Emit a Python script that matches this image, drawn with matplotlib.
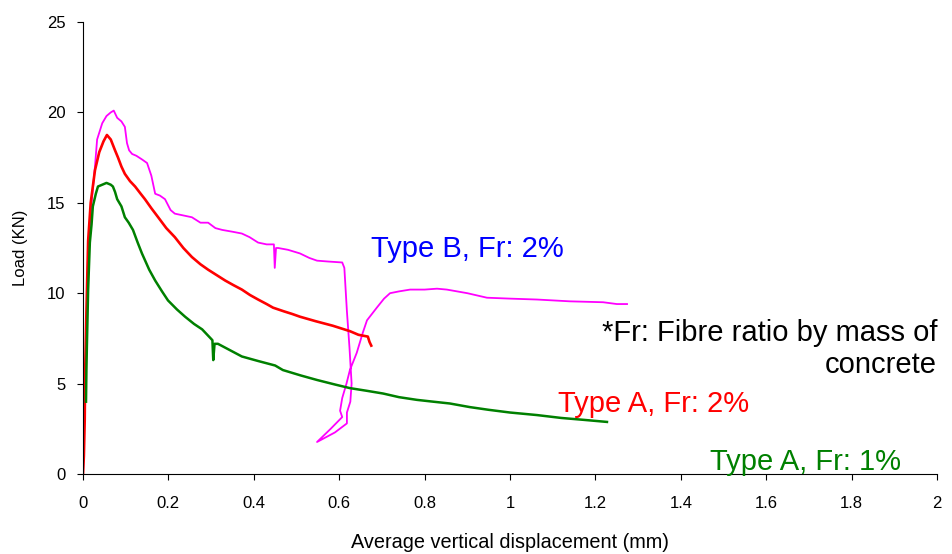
import matplotlib
matplotlib.use("Agg")
import matplotlib.pyplot as plt

# Type B, Fr: 2%
b2_x = [0, 0.003, 0.006, 0.009, 0.012, 0.02, 0.028, 0.033, 0.045, 0.055, 0.065, 0.072, 0.08, 0.09,
        0.098, 0.103, 0.108, 0.115, 0.125, 0.138, 0.15, 0.16, 0.169, 0.18, 0.192, 0.205, 0.215,
        0.235, 0.255, 0.275, 0.293, 0.31, 0.326, 0.35, 0.372, 0.39, 0.41, 0.43, 0.447, 0.449,
        0.452, 0.457, 0.48, 0.508, 0.53, 0.548, 0.575, 0.607, 0.612, 0.618, 0.624, 0.629, 0.626,
        0.618, 0.618, 0.59, 0.548, 0.58, 0.607, 0.602, 0.607, 0.617, 0.625, 0.641, 0.655, 0.665,
        0.688, 0.705, 0.719, 0.74, 0.766, 0.8, 0.829, 0.852, 0.9, 0.946, 1.0, 1.063, 1.14, 1.218,
        1.25, 1.274]
b2_y = [0, 3, 6, 9, 12.4, 15.0, 17.0, 18.5, 19.4, 19.8, 20.0, 20.1, 19.7, 19.5,
        19.2, 18.3, 17.9, 17.7, 17.6, 17.4, 17.2, 16.5, 15.5, 15.4, 15.2, 14.6, 14.4,
        14.3, 14.2, 13.9, 13.9, 13.6, 13.5, 13.4, 13.3, 13.1, 12.8, 12.7, 12.7, 11.4,
        12.5, 12.5, 12.4, 12.2, 11.95, 11.8, 11.75, 11.7, 11.4, 9.0, 7.0, 5.0, 4.0,
        3.4, 2.8, 2.3, 1.77, 2.5, 3.15, 3.5, 4.2, 5.0, 5.75, 6.7, 7.8, 8.5,
        9.2, 9.7, 10.0, 10.1, 10.2, 10.2, 10.25, 10.2, 10.0, 9.75, 9.7, 9.65, 9.55, 9.5,
        9.4, 9.4]

# Type A, Fr: 2%
a2_x = [0, 0.002, 0.004, 0.005, 0.008, 0.012, 0.018, 0.028, 0.038, 0.048, 0.056, 0.065, 0.075,
        0.082, 0.09, 0.098, 0.11, 0.122, 0.135, 0.145, 0.16, 0.176, 0.195, 0.215, 0.235, 0.255,
        0.275, 0.293, 0.313, 0.333, 0.352, 0.372, 0.391, 0.41, 0.43, 0.445, 0.47, 0.49, 0.508,
        0.545, 0.585, 0.625, 0.645, 0.667, 0.671, 0.675]
a2_y = [0, 1.0, 3.0, 5.6, 9.0, 12.9, 15.0, 16.8, 17.8, 18.4, 18.75, 18.5, 17.9,
        17.5, 17.0, 16.6, 16.2, 15.9, 15.5, 15.2, 14.7, 14.2, 13.6, 13.1, 12.5, 12.0,
        11.6, 11.3, 11.0, 10.7, 10.45, 10.2, 9.9, 9.65, 9.4, 9.2, 9.0, 8.85, 8.7,
        8.45, 8.2, 7.9, 7.7, 7.6, 7.3, 7.1]

# Type A, Fr: 1%
a1_x = [0.007, 0.008, 0.009, 0.012, 0.016, 0.02, 0.023, 0.03, 0.035, 0.045, 0.055, 0.065, 0.07,
        0.075, 0.08, 0.09, 0.098, 0.107, 0.117, 0.128, 0.138, 0.155, 0.169, 0.185, 0.199, 0.22,
        0.239, 0.26, 0.279, 0.295, 0.303, 0.305, 0.308, 0.316, 0.34, 0.372, 0.41, 0.45, 0.468,
        0.51, 0.548, 0.59, 0.625, 0.665, 0.703, 0.74, 0.782, 0.82, 0.859, 0.906, 0.95, 1.0,
        1.063, 1.12, 1.17, 1.227]
a1_y = [4.0, 5.8, 7.0, 10.2, 12.8, 13.8, 14.8, 15.5, 15.9, 16.0, 16.1, 16.0, 15.9,
        15.6, 15.2, 14.8, 14.2, 13.9, 13.5, 12.8, 12.2, 11.3, 10.7, 10.1, 9.6, 9.1,
        8.7, 8.3, 8.0, 7.6, 7.4, 6.3, 7.2, 7.2, 6.9, 6.5, 6.25, 6.0, 5.75,
        5.45, 5.2, 4.95, 4.75, 4.6, 4.45, 4.25, 4.1, 4.0, 3.9, 3.7, 3.55, 3.4,
        3.26, 3.1, 3.0, 2.88]

x_ticks = [0, 0.2, 0.4, 0.6, 0.8, 1, 1.2, 1.4, 1.6, 1.8, 2]
x_tick_labels = ["0", "0.2", "0.4", "0.6", "0.8", "1", "1.2", "1.4", "1.6", "1.8", "2"]
y_ticks = [0, 5, 10, 15, 20, 25]

plt.rcParams['font.family'] = ['Liberation Sans', 'DejaVu Sans']

fig = plt.figure(figsize=(9.52, 5.54), dpi=100)
ax = fig.add_axes([0.0872, 0.1444, 0.8971, 0.8159])

ax.plot(b2_x, b2_y, color='#FF00FF', lw=1.3)
ax.plot(a2_x, a2_y, color='#FF0000', lw=1.9)
ax.plot(a1_x, a1_y, color='#008000', lw=1.8)

ax.set_xlim(0, 2)
ax.set_ylim(0, 25)
ax.set_xticks(x_ticks)
ax.set_xticklabels(x_tick_labels)
ax.set_yticks(y_ticks)
ax.tick_params(axis='both', direction='out', length=4.5, width=0.8, labelsize=12, colors='black')
ax.tick_params(axis='x', pad=11)
ax.tick_params(axis='y', pad=8)
for s in ['top', 'right']:
    ax.spines[s].set_visible(False)
for s in ['left', 'bottom']:
    ax.spines[s].set_color('black')
    ax.spines[s].set_linewidth(0.8)

ax.set_xlabel("Average vertical displacement (mm)", fontsize=14.3, labelpad=16)
ax.set_ylabel("Load (KN)", fontsize=12, labelpad=14)

ax.text(0.899, 12.0, "Type B, Fr: 2%", color='#0000FF', fontsize=21, ha='center', va='baseline')
ax.text(1.337, 3.43, "Type A, Fr: 2%", color='#FF0000', fontsize=21, ha='center', va='baseline')
ax.text(1.691, 0.22, "Type A, Fr: 1%", color='#008000', fontsize=21, ha='center', va='baseline')
ax.text(2.0, 7.37, "*Fr: Fibre ratio by mass of", color='black', fontsize=21, ha='right', va='baseline')
ax.text(2.0, 5.59, "concrete", color='black', fontsize=21, ha='right', va='baseline')

fig.savefig("out.png", dpi=100)
